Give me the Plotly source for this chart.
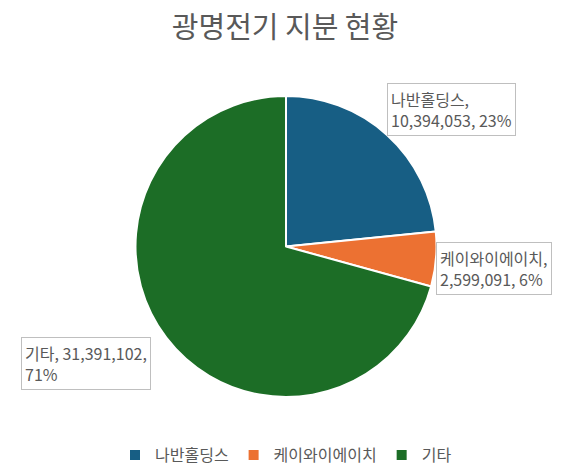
import plotly.graph_objects as go

# shareholders of 광명전기
labels = ['나반홀딩스', '케이와이에이치', '기타']
shares = [10394053, 2599091, 31391102]
colors = ['#175E84', '#EC7132', '#1C6D26']

TITLE = '광명전기 지분 현황'
FONT = 'Noto Sans CJK KR'
TEXT_COLOR = '#595959'

W, H = 587, 470
OFF = 8  # page body margin shifts the figure by this much


def px(x):
    return (x - OFF) / W


def py(y):
    return 1 - (y - OFF) / H


total = sum(shares)
pcts = [round(s / total * 100) for s in shares]

fig = go.Figure(go.Pie(
    labels=labels,
    values=shares,
    sort=False,
    direction='clockwise',
    rotation=0,
    textinfo='none',
    hoverinfo='label+value+percent',
    marker=dict(colors=colors, line=dict(color='white', width=2)),
    domain=dict(x=[px(135), px(437)], y=[py(397), py(96)]),
))

# label boxes
box_pos = [(px(387), py(83)), (px(436), py(242)), (px(21), py(337))]
box_text = [
    f'{labels[0]},<br>{shares[0]:,}, {pcts[0]}%',
    f'{labels[1]},<br>{shares[1]:,}, {pcts[1]}%',
    f'{labels[2]}, {shares[2]:,},<br>{pcts[2]}%',
]
annotations = []
for (x, y), txt in zip(box_pos, box_text):
    annotations.append(dict(
        x=x, y=y, xref='paper', yref='paper',
        xanchor='left', yanchor='top', align='left',
        text=txt, showarrow=False,
        font=dict(family=FONT, size=16, color=TEXT_COLOR),
        bordercolor='#BFBFBF', borderwidth=1, borderpad=3,
        bgcolor='white',
    ))

fig.update_layout(
    width=W, height=H,
    margin=dict(l=0, r=0, t=0, b=0),
    paper_bgcolor='white',
    title=dict(text=TITLE, x=px(285), xanchor='center', y=py(28), yanchor='middle',
               font=dict(family=FONT, size=29, color=TEXT_COLOR)),
    showlegend=True,
    legend=dict(orientation='h', x=px(286), xanchor='center', y=py(455), yanchor='middle',
                font=dict(family=FONT, size=16, color=TEXT_COLOR), itemwidth=30,
                tracegroupgap=0),
    annotations=annotations,
)

fig.write_html('out.html')
